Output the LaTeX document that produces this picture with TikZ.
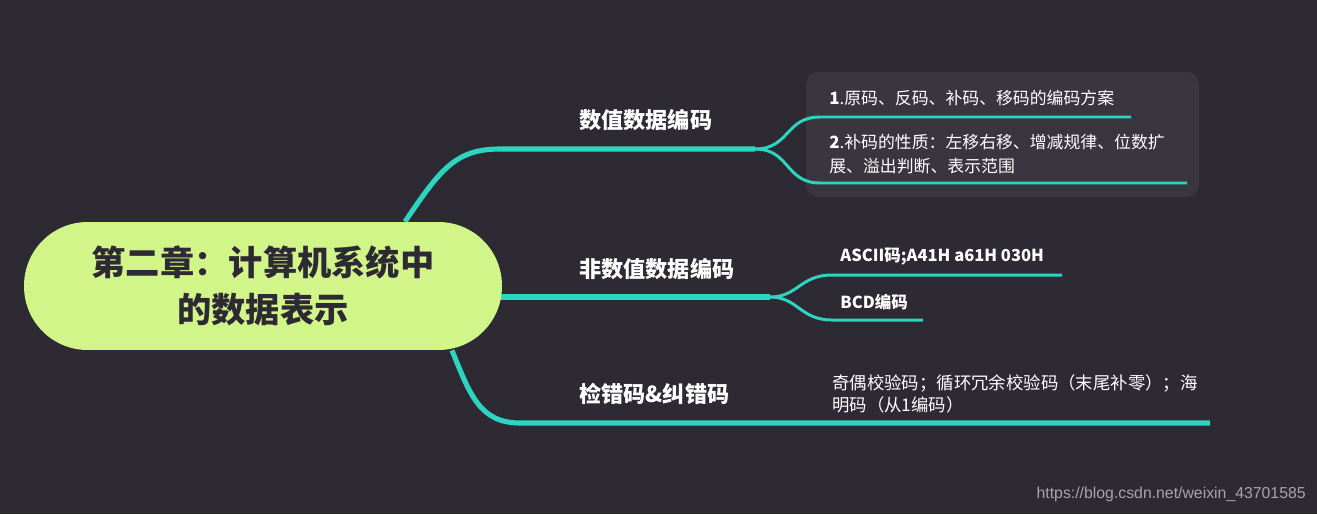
\documentclass[tikz,border=0pt]{standalone}
\usepackage{fontspec}
\setmainfont{Noto Sans CJK SC}
\newfontfamily\marca{Liberation Sans}
\usetikzlibrary{calc,backgrounds}
\definecolor{fondo}{HTML}{2E2A33}
\definecolor{verdeclaro}{HTML}{D2F58A}
\definecolor{turquesa}{HTML}{2DD4BF}
\definecolor{caja}{HTML}{3A3640}
\definecolor{gris}{HTML}{A8A4AD}

\begin{document}
\begin{tikzpicture}[
      x=0.02cm, y=-0.02cm,
      raiz/.style={fill=verdeclaro, rounded corners=1.27cm, minimum width=9.56cm,
                   minimum height=2.56cm, align=center, text=fondo,
                   font=\fontsize{19.5}{26.6}\selectfont\bfseries},
      tema/.style={anchor=west, inner sep=0pt, text=white,
                   font=\fontsize{12.6}{15}\selectfont\bfseries},
      hoja/.style={anchor=west, inner sep=0pt, text=white, align=left,
                   font=\fontsize{9.6}{13.6}\selectfont},
      hojab/.style={hoja, font=\fontsize{9.4}{13}\selectfont\bfseries},
      grupo/.style={fill=caja, rounded corners=0.24cm, minimum width=7.86cm,
                    minimum height=2.5cm},
      m/.style={draw=turquesa, line width=2.9pt},
      d/.style={draw=turquesa, line width=1.7pt},
    ]
    \useasboundingbox (0,0) rectangle (1317,514);

    % =============== NODOS ===============================================
    \node[raiz] (cap) at (263,286) {第二章：计算机系统中\\的数据表示};

    % --- Ramas principales ---
    \node[tema] (num)  at (579,120) {数值数据编码};
    \node[tema] (nonum) at (579,269) {非数值数据编码};
    \node[tema] (err)  at (579,394) {检错码\&纠错码};

    % --- Hojas ---
    \node[hoja] (h1) at (829,98)  {\textbf{1}.原码、反码、补码、移码的编码方案};
    \node[hoja] (h2) at (829,154) {\textbf{2}.补码的性质：左移右移、增减规律、位数扩\\展、溢出判断、表示范围};
    \node[hojab] (ascii) at (840,257) {ASCII码;A41H a61H 030H};
    \node[hojab] (bcd)   at (840,302) {BCD编码};
    \node[hoja, font=\fontsize{9.9}{12.6}\selectfont] (h3) at (832,394)
      {奇偶校验码；循环冗余校验码（末尾补零）；海\\明码（从1编码）};

    % --- Puntos de las ramas ---
    \coordinate (c1) at (500,149);
    \coordinate (f1) at (755,149);
    \coordinate (f2) at (770,297);
    \coordinate (c3) at (520,423);
    \coordinate (e1) at (1131,117);
    \coordinate (e2) at (1187,183);
    \coordinate (ea) at (1062,275);
    \coordinate (eb) at (923,320);
    \coordinate (e3) at (1210,423);

    % =============== FONDO Y RAMAS ========================================
    \begin{scope}[on background layer]
      \fill[fondo] (0,0) rectangle (1317,514);
      \node[grupo] (g1) at (1002.5,134.5) {};

      % --- Desde el tema central ---
      \draw[m] ($(cap.north)+(142,0)$) .. controls (440,170) and (455,149) .. (c1) -- (f1);
      \draw[m] ($(cap.east)+(-12,11)$) -- (f2);
      \draw[m] ($(cap.south)+(189,0)$) .. controls (470,395) and (480,423) .. (c3) -- (e3);

      % --- Hacia las hojas ---
      \draw[d] (f1) .. controls (790,149) and (785,117) .. (820,117) -- (e1);
      \draw[d] (f1) .. controls (790,149) and (785,183) .. (820,183) -- (e2);
      \draw[d] (f2) .. controls (798,297) and (800,275) .. (832,275) -- (ea);
      \draw[d] (f2) .. controls (798,297) and (800,320) .. (832,320) -- (eb);
    \end{scope}

    % =============== MARCA ===============================================
    \node[anchor=east, inner sep=0pt, text=gris, font=\marca\fontsize{9}{11}\selectfont]
      (url) at (1306,494) {https://blog.csdn.net/weixin\_43701585};
  \end{tikzpicture}
\end{document}
